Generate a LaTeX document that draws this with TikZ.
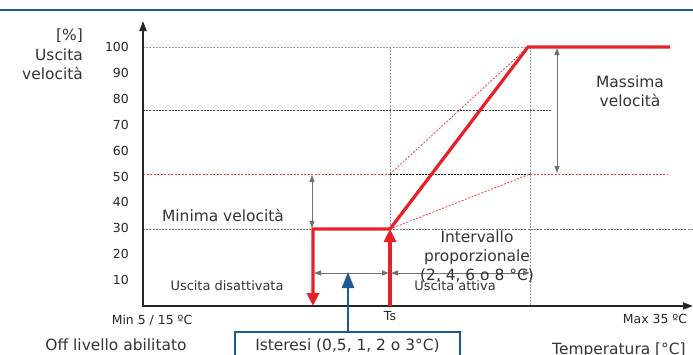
\documentclass[tikz,border=0pt]{standalone}
\usepackage{fontspec}
\setmainfont{DejaVu Sans}
\usetikzlibrary{arrows.meta, positioning}

\definecolor{vred}{HTML}{E8202A}
\definecolor{vblue}{HTML}{1D5A91}
\definecolor{vgray}{HTML}{707070}
\definecolor{vtext}{HTML}{333333}

\tikzset{
  axisline/.style={line width=2bp, draw=black!85, line cap=rect, -{Triangle[length=10bp,width=7bp]}},
  dotgrid/.style={line width=0.9bp, draw=black!40, dash pattern=on 2bp off 1.2bp},
  darkgrid/.style={dotgrid, draw=black!75},
  redhint/.style={line width=0.8bp, draw=vred!85, dash pattern=on 2bp off 1.5bp},
  speed/.style={line width=3.2bp, draw=vred, line join=miter},
  redtip/.style={-{Triangle[length=13bp,width=12bp]}},
  dim/.style={line width=1bp, draw=vgray, {Triangle[length=7bp,width=5bp]}-{Triangle[length=7bp,width=5bp]}},
  hyst/.style={line width=2.5bp, draw=vblue},
  lbl/.style={text=vtext, font=\fontsize{15.5}{19}\selectfont, inner sep=0pt},
  smalllbl/.style={lbl, font=\fontsize{13}{16}\selectfont},
  ticklbl/.style={lbl, font=\fontsize{12.5}{15}\selectfont, text=black!85},
}

\begin{document}
\begin{tikzpicture}[x=1bp, y=-1bp]
    \useasboundingbox (0,0) rectangle (693,354);
    \draw[vblue, line width=1.5bp] (0,10) -- (693,10);

    % key points
    \coordinate (O) at (143,306);
    \coordinate (ytop) at (143,21);
    \coordinate (xend) at (693,306);
    \coordinate (off) at (313,306);
    \coordinate (minc) at (313,229);
    \coordinate (knee) at (390,229);
    \coordinate (ts) at (390,306);
    \coordinate (full) at (528,47);
    \coordinate (fullend) at (670,47);
    \coordinate (pend) at (530,306);

    % grid
    \draw[dotgrid] (143,47) -- (530,47);
    \draw[darkgrid] (143,110) -- (552,110);
    \draw[redhint] (143,174) -- (390,174);
    \draw[darkgrid, draw=black] (390,174) -- (530,174);
    \draw[redhint] (530,174) -- (668,174);
    \draw[dotgrid, draw=black!55] (143,229) -- (minc);
    \draw[dotgrid, draw=black!55] (knee) -- (693,229);
    \draw[dotgrid] (390,47) -- (ts);
    \draw[dotgrid] (530,47) -- (pend);
    \draw[redhint] (390,174) -- (full);
    \draw[redhint] (knee) -- (530,174);

    % axes
    \draw[axisline] (O) -- (ytop);
    \draw[axisline] (O) -- (xend);
    \foreach \v in {10,20,...,100}
        \node[ticklbl, anchor=east] (t\v) at (129,306-2.59*\v) {\v};

    % speed curve
    \draw[speed, {Triangle[length=13bp,width=12bp]}-] (off) -- (minc) -- (knee) -- (full) -- (fullend);
    \draw[speed, redtip] (ts) -- (knee);

    % dimensions
    \draw[dim] (557,48) -- (557,173);
    \draw[dim] (312,175) -- (312,228);
    \draw[dim] (314,273) -- (389,273);
    \draw[dim] (391,273) -- (530,273);

    % labels
    \node[lbl, anchor=base east] (ylab1) at (83,40) {[\%]};
    \node[lbl, anchor=base east] (ylab2) at (83,60) {Uscita};
    \node[lbl, anchor=base east] (ylab3) at (83,79) {velocità};
    \node[lbl, anchor=base] (minv) at (223,221) {Minima velocità};
    \node[lbl, anchor=base] (maxv1) at (630,87) {Massima};
    \node[lbl, anchor=base] (maxv2) at (630,106) {velocità};
    \node[smalllbl, anchor=base] (disatt) at (227,290) {Uscita disattivata};
    \node[smalllbl, anchor=base] (att) at (455,290) {Uscita attiva};
    \node[lbl, anchor=base] (band1) at (477,242) {Intervallo};
    \node[lbl, anchor=base] (band2) at (477,261) {proporzionale};
    \node[lbl, anchor=base] (band3) at (477,280) {(2, 4, 6 o 8 °C)};
    \node[ticklbl, anchor=base] (tmin) at (152,324) {Min 5 / 15 ºC};
    \node[ticklbl, anchor=base] (tsl) at (390,320) {Ts};
    \node[ticklbl, anchor=base] (tmax) at (655,323) {Max 35 ºC};
    \node[lbl, anchor=base] (offl) at (116,350) {Off livello abilitato};
    \node[lbl, anchor=base west] (temp) at (552,354) {Temperatura [°C]};

    % hysteresis
    \node[lbl, draw=vblue, line width=2.5bp, anchor=base, minimum width=225bp,
          text height=12bp, text depth=4bp, inner ysep=6bp] (ister) at (347.5,350)
          {Isteresi (0,5, 1, 2 o 3°C)};
    \draw[hyst, -{Triangle[length=16bp,width=12bp]}] (ister.north -| 348,0) -- (348,272);
\end{tikzpicture}
\end{document}
